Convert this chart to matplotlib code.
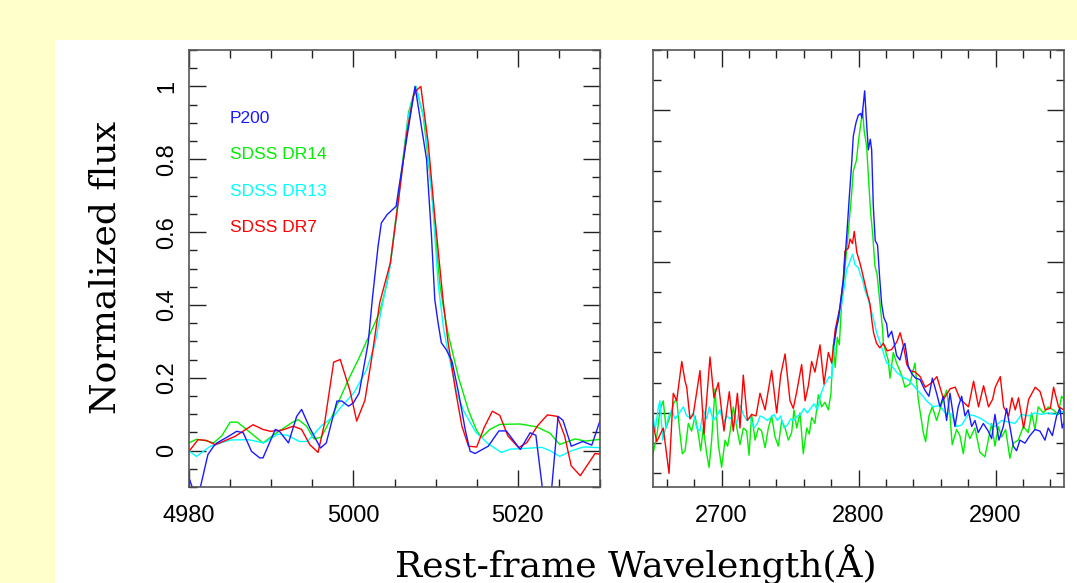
import matplotlib
matplotlib.use("Agg")
import matplotlib.pyplot as plt
from matplotlib.patches import Rectangle
from matplotlib.ticker import MultipleLocator, NullFormatter

# ---- left panel: [OIII] 5007 region, normalized ----
p200_oiii_wave = [4980.0, 4981.0, 4981.5, 4982.3, 4983.0, 4983.4, 4984.8, 4985.8, 4986.6, 4987.6,
                  4988.6, 4989.0, 4990.5, 4991.0, 4992.1, 4993.1, 4993.7, 4994.7, 4996.0, 4996.7,
                  4998.0, 4998.6, 4999.4, 5000.0, 5000.7, 5001.8, 5002.3, 5003.0, 5003.4, 5004.1,
                  5005.2, 5005.5, 5007.5, 5008.9, 5009.5, 5009.9, 5010.3, 5010.7, 5011.3, 5012.0,
                  5012.8, 5013.6, 5014.2, 5014.8, 5016.4, 5017.7, 5018.6, 5020.3, 5021.5, 5022.2,
                  5023.3, 5023.9, 5024.9, 5025.5, 5026.5, 5027.9, 5029.0, 5030.0]
p200_oiii_flux = [-0.075, -0.14, -0.089, -0.011, 0.012, 0.021, 0.039, 0.053, 0.049, -0.002,
                  -0.02, -0.02, 0.058, 0.053, 0.021, 0.094, 0.113, 0.062, 0.007, 0.021,
                  0.136, 0.136, 0.122, 0.131, 0.158, 0.296, 0.415, 0.561, 0.625, 0.648,
                  0.671, 0.717, 1.0, 0.8, 0.589, 0.415, 0.351, 0.296, 0.277, 0.245,
                  0.158, 0.058, -0.002, -0.008, 0.012, 0.054, 0.054, 0.003, 0.049, 0.042,
                  -0.16, -0.16, 0.094, 0.083, 0.012, 0.025, 0.015, 0.082]

dr14_oiii_wave = [4980.0, 4980.9, 4982.1, 4983.0, 4984.0, 4985.0, 4985.9, 4989.0, 4990.6, 4992.6,
                  4993.3, 4994.3, 4995.2, 4996.1, 4997.4, 4999.5, 5000.6, 5001.8, 5003.2, 5004.1,
                  5004.5, 5005.5, 5006.7, 5007.6, 5008.5, 5009.5, 5010.5, 5010.9, 5011.5, 5012.8,
                  5014.0, 5015.0, 5015.6, 5016.6, 5017.8, 5020.3, 5022.3, 5023.9, 5025.1, 5027.0,
                  5028.2, 5030.0]
dr14_oiii_flux = [0.021, 0.031, 0.027, 0.021, 0.041, 0.078, 0.078, 0.021, 0.048, 0.078,
                  0.085, 0.067, 0.032, 0.037, 0.094, 0.20, 0.25, 0.31, 0.38, 0.46,
                  0.516, 0.70, 0.928, 1.0, 0.92, 0.717, 0.46, 0.40, 0.323, 0.20,
                  0.11, 0.055, 0.036, 0.058, 0.072, 0.073, 0.065, 0.048, 0.017, 0.032,
                  0.026, 0.031]

dr13_oiii_wave = [4980.0, 4980.9, 4982.6, 4985.0, 4987.2, 4989.1, 4990.8, 4992.0, 4993.4, 4994.4,
                  4996.1, 4997.6, 4998.4, 5000.1, 5001.6, 5002.6, 5003.4, 5004.5, 5005.5, 5006.7,
                  5007.6, 5008.7, 5009.6, 5010.3, 5011.0, 5011.8, 5012.6, 5013.5, 5014.9, 5016.5,
                  5018.0, 5019.1, 5021.0, 5022.9, 5023.9, 5025.1, 5026.6, 5028.0, 5030.0]
dr13_oiii_flux = [-0.001, -0.016, 0.012, 0.029, 0.03, 0.021, 0.045, 0.042, 0.025, 0.025,
                  0.068, 0.094, 0.117, 0.16, 0.222, 0.29, 0.387, 0.51, 0.69, 0.92,
                  1.0, 0.9, 0.69, 0.46, 0.33, 0.24, 0.155, 0.105, 0.05, 0.017,
                  -0.005, 0.004, 0.006, 0.009, 0.0, -0.016, 0.0, 0.01, 0.008]

dr7_oiii_wave = [4980.0, 4981.1, 4982.1, 4983.2, 4985.6, 4987.8, 4989.0, 4989.9, 4991.3, 4992.7,
                 4993.7, 4994.7, 4995.7, 4996.5, 4997.6, 4998.4, 4999.6, 5000.4, 5001.4, 5002.2,
                 5003.2, 5004.5, 5005.5, 5006.5, 5007.3, 5007.7, 5008.2, 5009.1, 5009.9, 5010.9,
                 5011.5, 5012.4, 5013.2, 5014.0, 5015.0, 5015.9, 5016.9, 5017.8, 5018.8, 5020.1,
                 5021.1, 5022.4, 5023.6, 5024.8, 5025.7, 5026.5, 5027.6, 5029.4, 5030.0]
dr7_oiii_flux = [-0.002, 0.03, 0.028, 0.016, 0.039, 0.071, 0.058, 0.053, 0.056, 0.067,
                 0.058, 0.016, -0.005, 0.076, 0.243, 0.25, 0.163, 0.081, 0.138, 0.25,
                 0.406, 0.516, 0.69, 0.873, 0.974, 0.99, 1.0, 0.845, 0.644, 0.415,
                 0.30, 0.168, 0.067, 0.012, 0.01, 0.063, 0.108, 0.097, 0.04, 0.008,
                 0.022, 0.068, 0.098, 0.094, 0.04, -0.042, -0.069, -0.008, -0.01]

# ---- right panel: MgII 2800 region ----
dr7_mg_wave = [2650.0, 2652.7, 2657.5, 2661.7, 2664.8, 2667.3, 2671.0, 2673.4, 2674.6, 2677.0,
               2679.4, 2684.3, 2687.2, 2691.6, 2694.5, 2697.7, 2701.8, 2705.7, 2708.6, 2711.6,
               2713.5, 2715.9, 2718.9, 2722.0, 2725.2, 2728.1, 2731.8, 2736.6, 2740.3, 2743.2,
               2746.4, 2750.0, 2752.4, 2754.9, 2758.5, 2761.0, 2763.4, 2765.8, 2768.2, 2771.9,
               2774.8, 2778.0, 2780.4, 2783.0, 2784.6, 2786.5, 2788.9, 2790.1, 2792.6, 2793.8,
               2795.6, 2796.9, 2798.8, 2801.1, 2803.5, 2806.0, 2808.4, 2809.6, 2811.0, 2813.2,
               2815.6, 2818.1, 2821.0, 2824.2, 2828.0, 2830.4, 2832.9, 2835.3, 2837.7, 2841.4,
               2845.0, 2848.7, 2853.5, 2857.2, 2862.1, 2866.9, 2870.6, 2874.2, 2880.3, 2884.0,
               2887.6, 2891.3, 2894.9, 2897.9, 2899.8, 2903.5, 2905.9, 2909.6, 2912.0, 2914.4,
               2916.8, 2920.5, 2924.2, 2929.0, 2932.6, 2936.3, 2940.0, 2942.4, 2946.0, 2950.0]
dr7_mg_flux = [0.93, 0.81, 0.90, 0.60, 1.13, 1.08, 1.34, 1.21, 1.17, 0.96,
               0.99, 1.28, 0.86, 1.37, 1.10, 1.20, 0.88, 1.14, 0.88, 1.13,
               0.90, 1.25, 0.95, 0.99, 0.98, 1.13, 1.02, 1.28, 1.00, 1.25,
               1.39, 1.08, 1.03, 1.14, 1.32, 1.08, 1.18, 1.34, 1.27, 1.45,
               1.19, 1.40, 1.33, 1.55, 1.62, 1.70, 1.88, 2.07, 2.09, 2.15,
               2.12, 2.20, 2.06, 1.99, 1.90, 1.80, 1.72, 1.62, 1.53, 1.46,
               1.43, 1.46, 1.41, 1.42, 1.47, 1.53, 1.44, 1.32, 1.28, 1.27,
               1.24, 1.17, 1.20, 1.24, 1.09, 1.16, 1.17, 1.09, 1.04, 1.21,
               1.04, 1.18, 1.04, 1.09, 1.17, 1.24, 1.04, 0.98, 1.10, 1.02,
               1.10, 0.90, 1.09, 1.17, 1.14, 1.02, 1.03, 1.17, 1.04, 1.02]

dr14_mg_wave = [2650.0, 2652.7, 2655.1, 2657.5, 2659.5, 2662.9, 2665.3, 2667.3, 2669.7, 2671.4,
                2673.4, 2675.8, 2678.2, 2680.7, 2683.1, 2684.8, 2686.7, 2689.2, 2690.9, 2692.8,
                2695.3, 2697.7, 2700.1, 2702.6, 2704.5, 2706.7, 2708.6, 2711.6, 2713.5, 2716.0,
                2718.4, 2720.1, 2722.0, 2724.5, 2726.9, 2729.3, 2731.8, 2734.2, 2736.6, 2739.1,
                2741.5, 2743.9, 2746.4, 2748.8, 2751.2, 2752.9, 2754.9, 2757.3, 2759.7, 2762.2,
                2764.1, 2765.8, 2768.2, 2770.7, 2773.1, 2775.5, 2778.0, 2779.9, 2781.6, 2783.0,
                2784.5, 2786.0, 2787.5, 2789.0, 2791.4, 2793.5, 2795.0, 2796.2, 2798.5, 2800.0,
                2801.5, 2803.0, 2804.2, 2806.0, 2807.3, 2808.9, 2810.3, 2812.0, 2813.5, 2815.7,
                2817.6, 2818.1, 2821.7, 2823.0, 2825.4, 2827.8, 2831.5, 2833.9, 2837.5, 2841.2,
                2843.6, 2847.3, 2849.0, 2851.4, 2853.9, 2857.0, 2860.7, 2864.3, 2866.8, 2868.4,
                2871.6, 2874.0, 2876.5, 2878.9, 2881.3, 2885.0, 2888.6, 2892.3, 2894.7, 2897.2,
                2899.6, 2902.1, 2904.5, 2907.4, 2910.5, 2913.0, 2916.6, 2920.3, 2923.9, 2926.4,
                2928.8, 2931.2, 2934.9, 2938.5, 2942.2, 2945.8, 2948.2, 2950.0]
dr14_mg_flux = [0.73, 0.84, 1.02, 1.08, 0.90, 0.99, 1.07, 1.09, 0.86, 0.73,
                0.75, 0.93, 0.88, 0.98, 0.86, 0.75, 0.90, 0.73, 0.64, 0.82,
                1.16, 0.79, 0.64, 0.82, 0.78, 0.90, 1.04, 0.88, 0.79, 0.90,
                0.88, 0.72, 0.99, 0.82, 0.90, 0.88, 0.77, 0.90, 0.98, 0.84,
                0.78, 0.95, 0.90, 0.82, 0.87, 1.02, 0.90, 1.00, 0.73, 0.90,
                0.86, 0.97, 0.93, 1.12, 1.04, 1.07, 1.02, 1.13, 1.45, 1.30,
                1.50, 1.45, 1.70, 1.85, 2.08, 2.30, 2.45, 2.60, 2.67, 2.80,
                2.90, 3.00, 2.86, 2.76, 2.55, 2.32, 2.19, 1.97, 1.92, 1.72,
                1.55, 1.46, 1.35, 1.23, 1.40, 1.33, 1.25, 1.17, 1.19, 1.33,
                1.09, 0.87, 0.81, 0.98, 1.04, 0.95, 1.06, 1.15, 0.98, 0.79,
                0.89, 0.85, 0.73, 0.89, 0.83, 0.90, 0.74, 0.71, 0.82, 0.93,
                0.78, 0.91, 0.84, 0.89, 0.70, 0.80, 0.82, 0.91, 0.87, 1.00,
                0.89, 1.04, 1.00, 1.04, 1.02, 0.99, 1.11, 1.09]

dr13_mg_wave = [2650.0, 2651.5, 2653.9, 2655.1, 2657.1, 2661.2, 2663.6, 2666.1, 2668.5, 2672.1,
                2674.6, 2677.0, 2679.4, 2681.9, 2684.3, 2686.7, 2689.2, 2691.1, 2694.0, 2696.5,
                2698.9, 2701.3, 2703.8, 2706.2, 2708.6, 2711.1, 2713.5, 2716.0, 2718.4, 2720.8,
                2723.7, 2726.2, 2728.1, 2730.5, 2733.5, 2735.9, 2738.3, 2740.8, 2743.2, 2745.6,
                2748.1, 2750.5, 2752.9, 2755.4, 2757.8, 2760.2, 2762.7, 2765.1, 2767.5, 2770.0,
                2772.4, 2774.8, 2776.8, 2778.7, 2780.4, 2782.1, 2783.6, 2785.5, 2788.9, 2791.4,
                2793.3, 2795.7, 2797.4, 2799.9, 2801.1, 2803.0, 2804.7, 2807.2, 2808.9, 2810.5,
                2813.2, 2818.1, 2820.5, 2824.2, 2827.8, 2831.5, 2836.3, 2841.2, 2846.1, 2849.7,
                2854.6, 2859.5, 2863.1, 2868.0, 2871.6, 2875.3, 2880.1, 2885.0, 2889.9, 2894.7,
                2899.6, 2904.5, 2909.4, 2914.2, 2919.1, 2924.0, 2928.8, 2933.7, 2938.5, 2943.4,
                2948.2, 2950.0]
dr13_mg_flux = [0.99, 0.88, 1.04, 1.08, 0.82, 0.97, 1.02, 0.96, 0.99, 1.04,
                0.98, 0.97, 1.00, 0.90, 0.88, 1.02, 0.96, 1.04, 0.95, 0.98,
                1.02, 0.93, 0.98, 0.96, 0.99, 0.93, 1.05, 0.99, 0.95, 0.97,
                0.90, 0.93, 0.98, 0.97, 0.95, 0.97, 0.99, 0.95, 0.98, 0.90,
                0.92, 0.96, 0.95, 0.98, 0.99, 1.03, 1.00, 1.03, 1.06, 1.02,
                1.12, 1.18, 1.21, 1.24, 1.23, 1.41, 1.55, 1.62, 1.79, 1.95,
                1.99, 2.05, 1.98, 1.96, 1.92, 1.88, 1.81, 1.75, 1.68, 1.64,
                1.53, 1.40, 1.33, 1.31, 1.27, 1.24, 1.22, 1.17, 1.12, 1.08,
                1.04, 1.05, 1.00, 0.99, 0.91, 0.92, 0.99, 0.98, 0.96, 0.93,
                0.91, 0.95, 0.94, 0.93, 0.99, 0.98, 1.00, 0.99, 1.00, 0.99,
                1.01, 1.00]

p200_mg_wave = [2782.0, 2784.1, 2785.3, 2787.7, 2788.9, 2791.4, 2793.3, 2795.0, 2796.2, 2798.2,
                2799.9, 2801.6, 2802.5, 2804.5, 2806.0, 2807.2, 2808.6, 2809.6, 2810.8, 2812.2,
                2813.9, 2815.4, 2816.9, 2818.5, 2820.5, 2821.7, 2824.2, 2826.1, 2827.8, 2830.2,
                2832.7, 2833.9, 2836.3, 2838.8, 2841.7, 2844.9, 2848.5, 2851.4, 2853.9, 2857.0,
                2859.5, 2861.9, 2864.3, 2866.8, 2870.4, 2872.8, 2875.3, 2877.7, 2880.1, 2882.6,
                2885.0, 2887.4, 2891.1, 2894.7, 2897.2, 2899.6, 2902.5, 2905.7, 2908.1, 2910.5,
                2913.0, 2915.4, 2917.8, 2921.5, 2925.1, 2928.8, 2932.4, 2936.1, 2938.5, 2941.5,
                2944.6, 2947.0, 2948.7, 2950.0]
p200_mg_flux = [1.45, 1.57, 1.62, 1.79, 1.88, 2.17, 2.43, 2.65, 2.83, 2.92,
                2.97, 2.98, 2.95, 3.13, 2.90, 2.74, 2.81, 2.74, 2.37, 2.14,
                2.11, 1.90, 1.72, 1.63, 1.59, 1.50, 1.54, 1.46, 1.38, 1.35,
                1.44, 1.46, 1.31, 1.26, 1.23, 1.22, 1.15, 1.11, 1.23, 1.13,
                1.04, 1.11, 0.95, 1.13, 0.91, 1.04, 1.11, 0.98, 1.02, 0.91,
                0.95, 0.87, 0.93, 0.88, 0.83, 0.99, 0.82, 0.91, 1.03, 0.91,
                0.78, 0.75, 0.82, 0.80, 0.85, 0.89, 0.88, 0.82, 0.90, 0.85,
                0.98, 1.03, 0.90, 0.94]

labels = ["P200", "SDSS DR14", "SDSS DR13", "SDSS DR7"]
colors = ["#1a1aff", "#00ee00", "#00ffff", "#ff0000"]

plt.rcParams['font.family'] = ['Liberation Sans', 'DejaVu Sans']

fig = plt.figure(figsize=(10.77, 5.83), dpi=100)
fig.patch.set_facecolor('#ffffcc')
# white sheet behind the plots
fig.patches.append(Rectangle((55 / 1077, 0), 1 - 55 / 1077, 1 - 40 / 583,
                             transform=fig.transFigure, facecolor='white',
                             edgecolor='none', zorder=-10))

ax1 = fig.add_axes([189 / 1077, 96 / 583, 411 / 1077, 437 / 583])
ax2 = fig.add_axes([653 / 1077, 96 / 583, 411 / 1077, 437 / 583])

lw = 1.0
ax1.plot(dr14_oiii_wave, dr14_oiii_flux, color=colors[1], lw=lw)
ax1.plot(dr13_oiii_wave, dr13_oiii_flux, color=colors[2], lw=lw)
ax1.plot(dr7_oiii_wave, dr7_oiii_flux, color=colors[3], lw=lw)
ax1.plot(p200_oiii_wave, p200_oiii_flux, color=colors[0], lw=lw)

ax2.plot(dr14_mg_wave, dr14_mg_flux, color=colors[1], lw=lw)
ax2.plot(dr13_mg_wave, dr13_mg_flux, color=colors[2], lw=lw)
ax2.plot(dr7_mg_wave, dr7_mg_flux, color=colors[3], lw=lw)
ax2.plot(p200_mg_wave, p200_mg_flux, color=colors[0], lw=lw)

ax1.set_xlim(4980, 5030)
ax1.set_ylim(-0.1, 1.1)
ax1.xaxis.set_major_locator(MultipleLocator(20))
ax1.xaxis.set_minor_locator(MultipleLocator(5))
ax1.yaxis.set_major_locator(MultipleLocator(0.2))
ax1.yaxis.set_minor_locator(MultipleLocator(0.05))
ax1.yaxis.set_major_formatter(lambda v, p: f"{v:g}" if abs(v) > 1e-9 else "0")

ax2.set_xlim(2650, 2950)
ax2.set_ylim(0.51, 3.40)
ax2.xaxis.set_major_locator(MultipleLocator(100))
ax2.xaxis.set_minor_locator(MultipleLocator(20))
ax2.yaxis.set_major_locator(MultipleLocator(1))
ax2.yaxis.set_minor_locator(MultipleLocator(0.2))
ax2.yaxis.set_major_formatter(NullFormatter())

for ax in (ax1, ax2):
    ax.set_zorder(1)
    for s in ax.spines.values():
        s.set_color('#555555')
        s.set_linewidth(1.2)
    ax.tick_params(which='both', direction='in', top=True, right=True,
                   color='#222222', width=1.0)
    ax.tick_params(which='major', length=12)
    ax.tick_params(which='minor', length=6)
    ax.tick_params(axis='x', labelsize=17, pad=13)
    ax.tick_params(axis='y', labelsize=17, pad=8, labelrotation=90)

for lab in ax1.get_yticklabels():
    lab.set_va('center')

ytxt = [0.844, 0.760, 0.677, 0.593]
for name, c, yy in zip(labels, colors, ytxt):
    ax1.text(0.1, yy, name, transform=ax1.transAxes, color=c, fontsize=12.5,
             va='center', ha='left')

fig.text(106 / 1077, 1 - 267 / 583, 'Normalized flux', rotation=90,
         family='DejaVu Serif', fontsize=26, ha='center', va='center')
fig.text(636 / 1077, 1 - 565 / 583, 'Rest-frame Wavelength(Å)',
         family='DejaVu Serif', fontsize=26, ha='center', va='center')

fig.savefig('out.png', dpi=100, facecolor=fig.get_facecolor())
